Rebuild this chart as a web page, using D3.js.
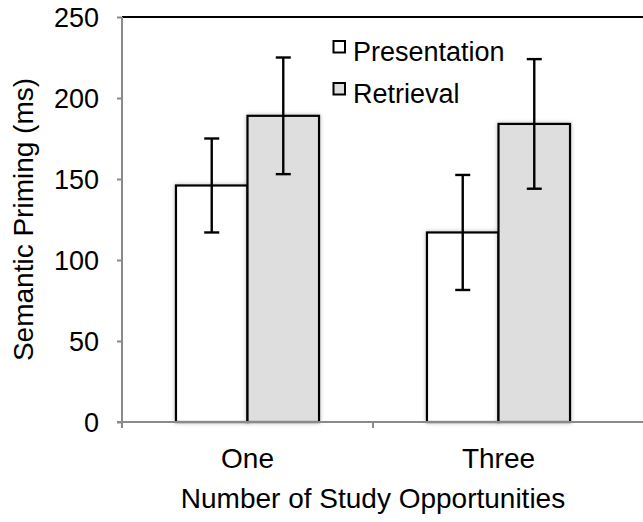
<!DOCTYPE html>
<html>
<head>
<meta charset="utf-8">
<script src="https://cdn.jsdelivr.net/npm/d3@7"></script>
<style>
  html, body { margin: 0; padding: 0; background: #fff; }
  svg { display: block; font-family: "Liberation Sans", Arial, Helvetica, sans-serif; }
</style>
</head>
<body>
<svg id="chart" width="643" height="522"></svg>
<script>
const categories = ["One", "Three"];
const seriesNames = ["Presentation", "Retrieval"];
const presentationValues = [146, 117];
const retrievalValues = [189, 184];
const presentationErrors = [29, 35.5];
const retrievalErrors = [36, 40];
const yTicks = [0, 50, 100, 150, 200, 250];
const xTitle = "Number of Study Opportunities";
const yTitle = "Semantic Priming (ms)";

const seriesValues = [presentationValues, retrievalValues];
const seriesErrors = [presentationErrors, retrievalErrors];
const fills = ["#ffffff", "#dedede"];

const svg = d3.select("#chart");
const mLeft = 122, mRight = 624, mTop = 17, mBottom = 422, frameRight = 643;

const defs = svg.append("defs");
const f = defs.append("filter").attr("id", "shadow").attr("x", "-20%").attr("y", "-20%").attr("width", "140%").attr("height", "140%");
f.append("feDropShadow").attr("dx", 0).attr("dy", 0).attr("stdDeviation", 2.2).attr("flood-color", "#000").attr("flood-opacity", 0.28);

const x = d3.scaleBand().domain(categories).range([mLeft, mRight]).padding(0);
const y = d3.scaleLinear().domain([0, 250]).range([mBottom, mTop]);
const inner = d3.scaleBand().domain(seriesNames)
  .range([x.bandwidth() * 0.215, x.bandwidth() * 0.785]).padding(0);

const data = [];
categories.forEach((c, i) => {
  seriesNames.forEach((s, j) => {
    data.push({ cat: c, series: s, value: seriesValues[j][i], err: seriesErrors[j][i], fill: fills[j] });
  });
});

// top frame line
svg.append("line").attr("x1", mLeft).attr("x2", frameRight).attr("y1", y(250)).attr("y2", y(250))
  .attr("stroke", "#000").attr("stroke-width", 2);

// bars
svg.append("g").selectAll("rect").data(data).join("rect")
  .attr("x", d => x(d.cat) + inner(d.series))
  .attr("y", d => y(d.value))
  .attr("width", inner.bandwidth())
  .attr("height", d => y(0) - y(d.value))
  .attr("fill", d => d.fill)
  .attr("stroke", "#000")
  .attr("stroke-width", 2.2)
  .attr("filter", "url(#shadow)");

// error bars
const eb = svg.append("g").attr("stroke", "#000").attr("stroke-width", 2.4);
data.forEach(d => {
  const cx = x(d.cat) + inner(d.series) + inner.bandwidth() / 2;
  eb.append("line").attr("x1", cx).attr("x2", cx).attr("y1", y(d.value + d.err)).attr("y2", y(d.value - d.err));
  eb.append("line").attr("x1", cx - 7.5).attr("x2", cx + 7.5).attr("y1", y(d.value + d.err)).attr("y2", y(d.value + d.err));
  eb.append("line").attr("x1", cx - 7.5).attr("x2", cx + 7.5).attr("y1", y(d.value - d.err)).attr("y2", y(d.value - d.err));
});

// y axis
const yAxis = d3.axisLeft(y).tickValues(yTicks).tickSize(5).tickPadding(18);
const gy = svg.append("g").attr("transform", `translate(${mLeft},0)`).call(yAxis);
gy.select(".domain").attr("stroke", "#8a8a8a").attr("stroke-width", 2).attr("d", `M0,${mTop}V${mBottom}`);
gy.selectAll(".tick line").attr("stroke", "#8a8a8a").attr("stroke-width", 2);
gy.selectAll(".tick text").attr("font-size", 27).attr("fill", "#000")
  .attr("font-family", "'Liberation Sans', Arial, sans-serif").attr("dy", "0.36em");

// x axis
const gx = svg.append("g").attr("transform", `translate(0,${mBottom})`);
gx.append("line").attr("x1", mLeft - 5).attr("x2", frameRight).attr("y1", 0).attr("y2", 0)
  .attr("stroke", "#8a8a8a").attr("stroke-width", 2);
const xTickPos = categories.map(c => x(c));
gx.selectAll(".xt").data(xTickPos).join("line")
  .attr("x1", d => d).attr("x2", d => d).attr("y1", 0).attr("y2", 6)
  .attr("stroke", "#8a8a8a").attr("stroke-width", 2);
gx.selectAll(".xl").data(categories).join("text")
  .attr("x", d => x(d) + x.bandwidth() / 2)
  .attr("y", 46)
  .attr("text-anchor", "middle")
  .attr("font-size", 28)
  .text(d => d);

// axis titles
svg.append("text").attr("x", (mLeft + mRight) / 2).attr("y", 507.5)
  .attr("text-anchor", "middle").attr("font-size", 28).text(xTitle);
svg.append("text").attr("transform", `translate(33,${(mTop + mBottom) / 2}) rotate(-90)`)
  .attr("text-anchor", "middle").attr("font-size", 28).text(yTitle);

// legend
const lg = svg.append("g");
seriesNames.forEach((s, j) => {
  const yy = 41 + j * 42;
  lg.append("rect").attr("x", 333.5).attr("y", yy).attr("width", 11.5).attr("height", 11.5)
    .attr("fill", fills[j]).attr("stroke", "#000").attr("stroke-width", 2);
  lg.append("text").attr("x", 353).attr("y", yy + 19.5).attr("font-size", 27).text(s);
});
</script>
</body>
</html>
